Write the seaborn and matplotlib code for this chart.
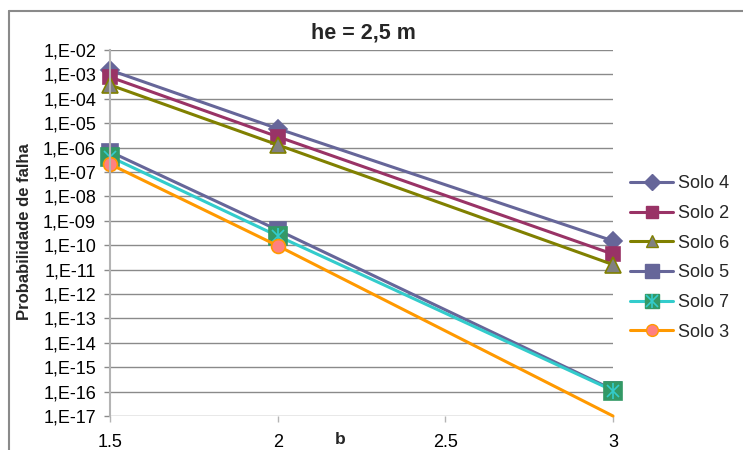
import matplotlib
matplotlib.use("Agg")
import matplotlib.pyplot as plt
import seaborn as sns
import numpy as np
from matplotlib.ticker import FixedLocator, FuncFormatter, NullLocator
from matplotlib.lines import Line2D
from matplotlib.legend_handler import HandlerTuple

# ---- data ----
b = [1.5, 2.0, 3.0]
series_names = ["Solo 4", "Solo 2", "Solo 6", "Solo 5", "Solo 7", "Solo 3"]
solo4 = [1.5e-3, 6.0e-6, 1.5e-10]
solo2 = [7.8e-4, 2.8e-6, 4.3e-11]
solo6 = [3.7e-4, 1.3e-6, 1.6e-11]
solo5 = [6.8e-7, 4.2e-10, 1.2e-16]
solo7 = [4.2e-7, 2.4e-10, 1.1e-16]
solo3 = [2.1e-7, 9.5e-11, 1.0e-17]
x_ticks = [1.5, 2, 2.5, 3]
x_ticklabels = ["1.5", "2", "2.5", "3"]
y_exponents = list(range(2, 18))
title = "he = 2,5 m"
xlabel = "b"
ylabel = "Probabilidade de falha"

sns.set_theme(style="white")
plt.rcParams['font.family'] = ['Liberation Sans', 'DejaVu Sans']

fig = plt.figure(figsize=(7.43, 4.5), dpi=100)
ax = fig.add_axes([110/743, 1-416/450, (613-110)/743, (416-50)/450])

styles = {
    "Solo 4": dict(color="#666699", marker="D", markersize=9, mfc="#666699", mec="#666699"),
    "Solo 2": dict(color="#993366", marker="s", markersize=10, mfc="#993366", mec="#993366"),
    "Solo 6": dict(color="#808000", marker="^", markersize=11, mfc="#808080", mec="#808000"),
    "Solo 5": dict(color="#666699", marker="s", markersize=12, mfc="#666699", mec="#666699"),
    "Solo 7": dict(color="#33CCCC", marker="s", markersize=12.5, mfc="#339966", mec="#339966"),
    "Solo 3": dict(color="#FF9900", marker="o", markersize=10, mfc="#FF8080", mec="#FF9900"),
}
data = {"Solo 4": solo4, "Solo 2": solo2, "Solo 6": solo6,
        "Solo 5": solo5, "Solo 7": solo7, "Solo 3": solo3}

handles = []
for name in series_names:
    st = styles[name]
    kw = dict(color=st["color"], marker=st["marker"], markersize=st["markersize"],
              markerfacecolor=st["mfc"], markeredgecolor=st["mec"], markeredgewidth=1.2,
              linewidth=2.2, clip_on=False)
    if name == "Solo 3":
        kw["markevery"] = [0, 1]
    sns.lineplot(x=b, y=data[name], ax=ax, legend=False, **kw)
    h = Line2D([], [], color=st["color"], marker=st["marker"], markersize=st["markersize"]*0.85,
               markerfacecolor=st["mfc"], markeredgecolor=st["mec"], linewidth=2.2)
    if name == "Solo 7":
        ax.plot(b, solo7, linestyle="none", marker="x", markersize=9, color="#33CCCC",
                mew=1.2, clip_on=False)
        ax.plot(b, solo7, linestyle="none", marker="|", markersize=12, color="#33CCCC",
                mew=1.2, clip_on=False)
        hx = Line2D([], [], linestyle="none", marker="x", markersize=8, color="#33CCCC", mew=1.2)
        hv = Line2D([], [], linestyle="none", marker="|", markersize=10, color="#33CCCC", mew=1.2)
        h = (h, hx, hv)
    handles.append(h)

ax.set_yscale("log")
ax.set_ylim(1e-17, 1e-2)
ax.set_xlim(1.5, 3)
ax.yaxis.set_major_locator(FixedLocator([10.0**(-k) for k in y_exponents]))
ax.yaxis.set_minor_locator(NullLocator())
ax.yaxis.set_major_formatter(FuncFormatter(lambda v, p: "1,E-%02d" % int(round(-np.log10(v)))))
ax.set_xticks(x_ticks)
ax.set_xticklabels(x_ticklabels)

ax.grid(axis="y", color="#8a8a8a", linewidth=1.0)
ax.grid(axis="x", visible=False)
ax.set_axisbelow(True)
for s in ["top", "right", "bottom"]:
    ax.spines[s].set_visible(False)
ax.spines["left"].set_color("#b4b4b4")
ax.spines["left"].set_linewidth(1.5)
ax.tick_params(axis="y", which="major", left=True, length=4, width=1, color="#8a8a8a",
               labelsize=13, pad=6, labelcolor="black")
ax.tick_params(axis="x", which="major", bottom=True, length=4, width=1, color="#b4b4b4",
               labelsize=13, pad=9, labelcolor="black")
ax.set_xlabel("")
ax.set_ylabel("")

fig.text(363/743, 1-33/450, title, ha="center", va="center", fontsize=15.5, fontweight="bold")
fig.text(340/743, 1-440/450, xlabel, ha="center", va="center", fontsize=12.5, fontweight="bold")
fig.text(25/743, 1-232/450, ylabel, ha="center", va="center", rotation=90,
         fontsize=12, fontweight="bold")

leg = fig.legend(handles, series_names, loc="center left", bbox_to_anchor=(630/743, 1-258/450),
                 frameon=False, fontsize=13, borderpad=0, borderaxespad=0,
                 handlelength=2.4, handletextpad=0.25, labelspacing=0.7,
                 handler_map={tuple: HandlerTuple(ndivide=1, pad=0)})

# outer chart border (extends past right and bottom edges)
fig.add_artist(Line2D([9/743, 1.0], [1-11/450, 1-11/450], transform=fig.transFigure,
                      color="#8a8a8a", linewidth=1.5))
fig.add_artist(Line2D([9/743, 9/743], [1-11/450, 0.0], transform=fig.transFigure,
                      color="#8a8a8a", linewidth=1.5))

fig.savefig("out.png", dpi=100)
